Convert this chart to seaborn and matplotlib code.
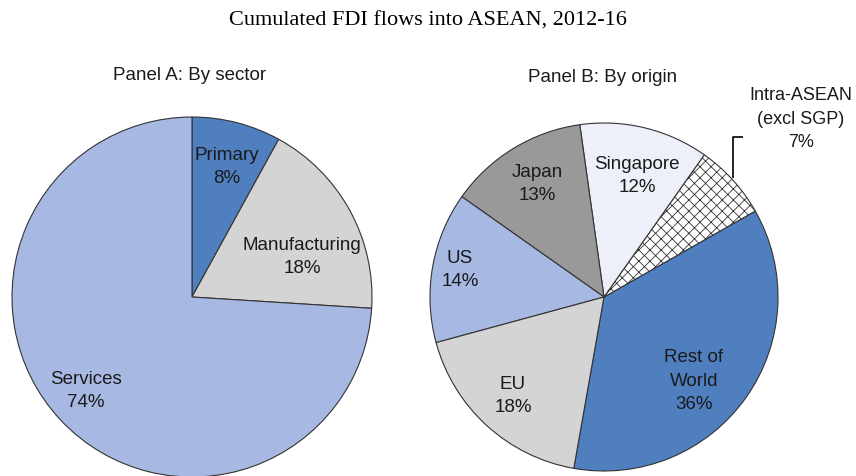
import matplotlib
matplotlib.use("Agg")
import matplotlib.pyplot as plt
import seaborn as sns

# ---- data ----
sector_labels = ["Primary", "Manufacturing", "Services"]
sector_values = [8, 18, 74]
origin_labels = ["Rest of\nWorld", "Intra-ASEAN\n(excl SGP)", "Singapore", "Japan", "US", "EU"]
origin_values = [36, 7, 12, 13, 14, 18]
title = "Cumulated FDI flows into ASEAN, 2012-16"
panel_titles = ["Panel A: By sector", "Panel B: By origin"]

sns.set_theme(style="white")
plt.rcParams["font.family"] = ["Liberation Sans", "DejaVu Sans"]
plt.rcParams["hatch.linewidth"] = 0.6

W, H = 856, 476
fig = plt.figure(figsize=(W / 100, H / 100), dpi=100)
ax = fig.add_axes([0, 0, 1, 1])

dblue = "#4F7FBF"
lblue = "#A7B9E3"
lgrey = "#D4D4D4"
mgrey = "#999999"
vlight = "#EDF0F8"
edge = "#333333"
txt = "#1a1a1a"
fs = 13.5
ls = 1.5

def Y(py):
    return H - py

# Panel A
wa, _ = ax.pie(sector_values, colors=[dblue, lgrey, lblue], startangle=90,
               counterclock=False, center=(192, Y(297)), radius=180,
               wedgeprops=dict(edgecolor=edge, linewidth=0.8), frame=True)
# Panel B
wb, _ = ax.pie(origin_values, colors=[dblue, "white", vlight, mgrey, lblue, lgrey],
               startangle=260, counterclock=True, center=(604, Y(297)), radius=174,
               wedgeprops=dict(edgecolor=edge, linewidth=0.8), frame=True)
wb[1].set_hatch("xxx")

ax.set_xlim(0, W)
ax.set_ylim(0, H)
ax.set_aspect("equal")
ax.axis("off")

# labels for panel A
pos_a = [(227, 167), (302, 257), (86, 391)]
for lab, v, (px, py) in zip(sector_labels, sector_values, pos_a):
    ax.text(px, Y(py), f"{lab}\n{v}%", ha="center", va="center", fontsize=fs,
            color=txt, linespacing=ls)

pos_b = [(694, 381), (801, 119), (637, 176), (537, 184), (460, 270), (513, 396)]
for i, (lab, v, (px, py)) in enumerate(zip(origin_labels, origin_values, pos_b)):
    ax.text(px, Y(py), f"{lab}\n{v}%", ha="center", va="center",
            fontsize=fs - 0.5 if i == 1 else fs, color=txt, linespacing=ls)

# leader line for Intra-ASEAN
ax.plot([733, 733, 743], [Y(178), Y(137), Y(137)], color="black", lw=1.2,
        solid_capstyle="butt")

ax.text(190, Y(75), panel_titles[0], ha="center", va="center", fontsize=fs, color=txt)
ax.text(603, Y(77), panel_titles[1], ha="center", va="center", fontsize=fs, color=txt)
fig.text(428 / W, 1 - 21 / H, title, ha="center", va="center", fontsize=16,
         family=["Liberation Serif", "DejaVu Serif"], color="black")

fig.savefig("out.png", dpi=100)
